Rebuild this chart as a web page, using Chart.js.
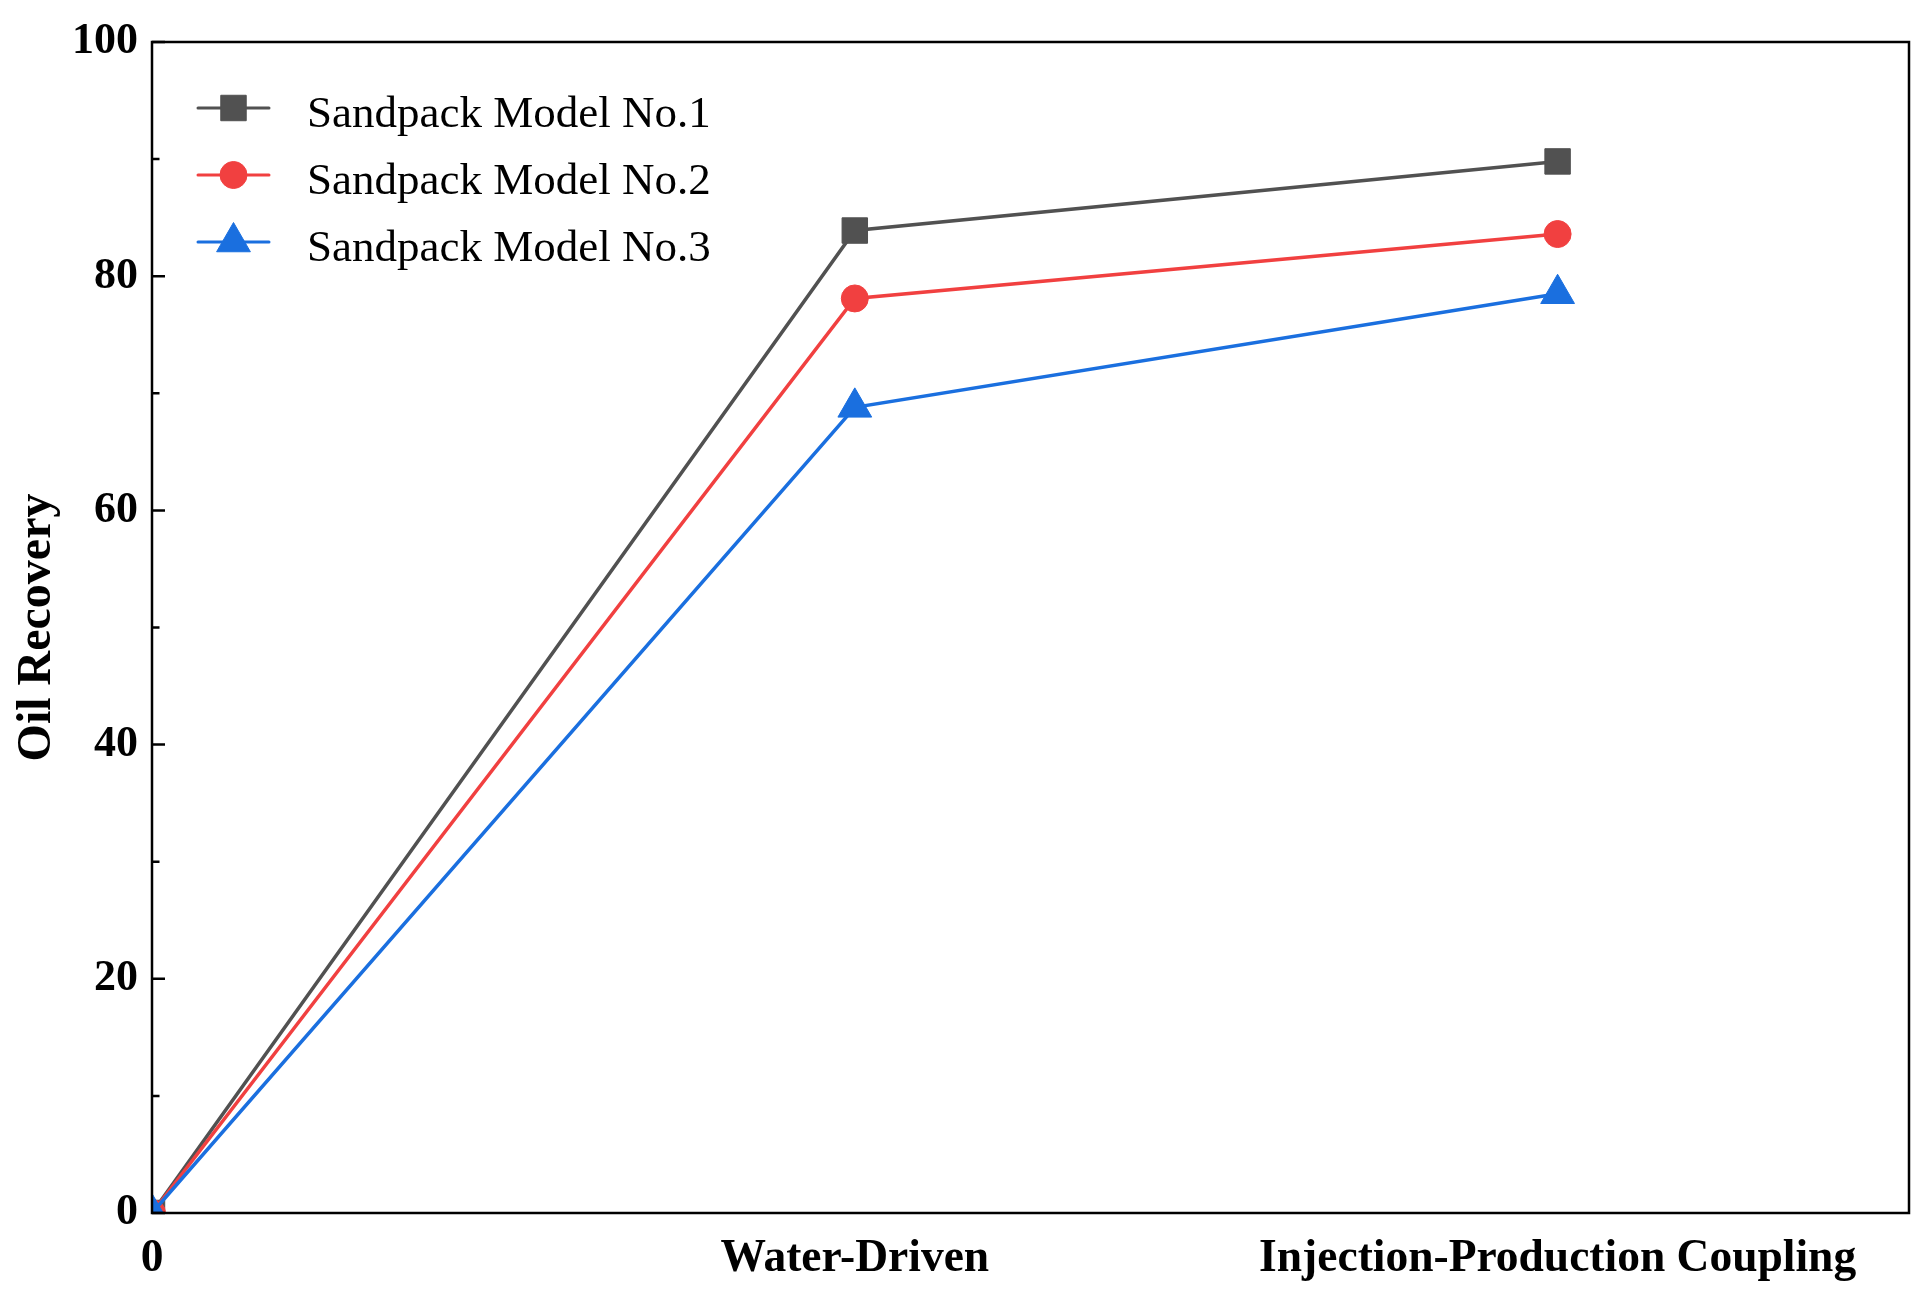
<!DOCTYPE html>
<html>
<head>
<meta charset="utf-8">
<script src="https://cdn.jsdelivr.net/npm/chart.js@4.4.1/dist/chart.umd.min.js"></script>
<style>
html,body{margin:0;padding:0;background:#fff;}
#wrap{width:1932px;height:1299px;}
</style>
</head>
<body>
<div id="wrap"><canvas id="c" width="1932" height="1299"></canvas></div>
<script>
const categories = ['0', 'Water-Driven', 'Injection-Production Coupling'];
const seriesNames = ['Sandpack Model No.1', 'Sandpack Model No.2', 'Sandpack Model No.3'];
const model1 = [0, 83.9, 89.8];
const model2 = [0, 78.1, 83.6];
const model3 = [0, 68.8, 78.5];
const yAxisTitle = 'Oil Recovery';

const FONT = "'Liberation Serif', 'Times New Roman', serif";
const colors = ['#515151', '#F14040', '#1A6FDF'];
const styles = ['rect', 'circle', 'triangle'];
const radii = [18, 13.5, 19.5];
const seriesValues = [model1, model2, model3];

const datasets = seriesValues.map((vals, i) => ({
  label: seriesNames[i],
  data: vals.map((v, k) => ({x: k, y: v})),
  borderColor: colors[i],
  backgroundColor: colors[i],
  borderWidth: 3.5,
  pointStyle: styles[i],
  pointRadius: radii[i],
  pointHoverRadius: radii[i],
  pointBackgroundColor: colors[i],
  pointBorderColor: colors[i],
  pointBorderWidth: 1,
  tension: 0,
  clip: 0,
  order: 3 - i
}));

function drawMarker(ctx, style, r, x, y) {
  if (window.Chart && Chart.helpers && Chart.helpers.drawPoint) {
    Chart.helpers.drawPoint(ctx, {pointStyle: style, radius: r, rotation: 0, borderWidth: 1}, x, y);
    return;
  }
  ctx.beginPath();
  if (style === 'rect') {
    const s = r * Math.SQRT1_2;
    ctx.rect(x - s, y - s, 2 * s, 2 * s);
  } else if (style === 'circle') {
    ctx.arc(x, y, r, 0, Math.PI * 2);
  } else {
    let a = 0;
    ctx.moveTo(x + Math.sin(a) * r, y - Math.cos(a) * r);
    a += 2 * Math.PI / 3;
    ctx.lineTo(x + Math.sin(a) * r, y - Math.cos(a) * r);
    a += 2 * Math.PI / 3;
    ctx.lineTo(x + Math.sin(a) * r, y - Math.cos(a) * r);
    ctx.closePath();
  }
  ctx.fill();
  ctx.stroke();
}

const framePlugin = {
  id: 'frameTicks',
  afterDraw(chart) {
    const {ctx, chartArea: a, scales: {y}} = chart;
    ctx.save();
    ctx.strokeStyle = '#000';
    ctx.lineWidth = 2.5;
    ctx.strokeRect(a.left, a.top, a.right - a.left, a.bottom - a.top);
    const vals = y.ticks.map(t => t.value);
    ctx.beginPath();
    vals.forEach((v, i) => {
      const py = y.getPixelForValue(v);
      ctx.moveTo(a.left, py);
      ctx.lineTo(a.left + 13, py);
      if (i < vals.length - 1) {
        const pm = y.getPixelForValue((v + vals[i + 1]) / 2);
        ctx.moveTo(a.left, pm);
        ctx.lineTo(a.left + 7.5, pm);
      }
    });
    ctx.stroke();
    ctx.restore();
  }
};

const legendPlugin = {
  id: 'insideLegend',
  afterDraw(chart) {
    const {ctx} = chart;
    const rows = [108, 175, 242];
    ctx.save();
    chart.data.datasets.forEach((ds, i) => {
      const yy = rows[i];
      ctx.strokeStyle = ds.borderColor;
      ctx.lineWidth = 3;
      ctx.lineCap = 'round';
      ctx.beginPath();
      ctx.moveTo(198, yy);
      ctx.lineTo(269, yy);
      ctx.stroke();
      ctx.lineCap = 'butt';
      ctx.fillStyle = ds.pointBackgroundColor;
      ctx.strokeStyle = ds.pointBorderColor;
      ctx.lineWidth = 1;
      drawMarker(ctx, ds.pointStyle, ds.pointRadius, 233.5, yy);
      ctx.fillStyle = '#000';
      ctx.font = '45px ' + FONT;
      ctx.textAlign = 'left';
      ctx.textBaseline = 'alphabetic';
      ctx.fillText(ds.label, 307, yy + 19);
    });
    ctx.restore();
  }
};

new Chart(document.getElementById('c'), {
  type: 'line',
  data: {datasets},
  options: {
    responsive: false,
    animation: false,
    events: [],
    layout: {padding: {top: 42, right: 23, bottom: 0, left: 0}},
    plugins: {legend: {display: false}, tooltip: {enabled: false}},
    scales: {
      x: {
        type: 'linear',
        min: 0,
        max: 2.5,
        grid: {display: false, drawTicks: false},
        border: {display: false},
        ticks: {
          stepSize: 1,
          includeBounds: false,
          autoSkip: false,
          maxRotation: 0,
          padding: 19,
          color: '#000',
          font: {family: FONT, size: 45.5, weight: 'bold'},
          callback: (v) => Number.isInteger(v) && categories[v] !== undefined ? categories[v] : ''
        },
        afterFit(s) { s.height = 86; }
      },
      y: {
        type: 'linear',
        min: 0,
        max: 100,
        grid: {display: false, drawTicks: false},
        border: {display: false},
        ticks: {
          stepSize: 20,
          padding: 14,
          color: '#000',
          font: {family: FONT, size: 44, weight: 'bold'}
        },
        title: {
          display: true,
          text: yAxisTitle,
          color: '#000',
          font: {family: FONT, size: 48, weight: 'bold'},
          padding: {top: 9, bottom: 0}
        },
        afterFit(s) { s.width = 152; }
      }
    }
  },
  plugins: [framePlugin, legendPlugin]
});
</script>
</body>
</html>
